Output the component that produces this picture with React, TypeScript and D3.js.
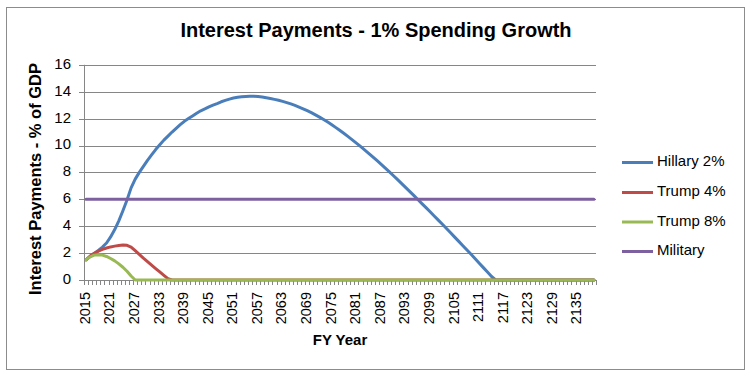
import React from "react";
import * as d3 from "d3";

const years: number[] = d3.range(2015, 2140);

const hillary: number[] = [
  1.5, 1.75, 1.98, 2.2, 2.45, 2.75, 3.2, 3.75, 4.4, 5.15,
  5.95, 6.85, 7.5, 8.0, 8.45, 8.9, 9.3, 9.7, 10.05, 10.4,
  10.7, 11.0, 11.28, 11.55, 11.8, 12.0, 12.2, 12.4, 12.58, 12.72,
  12.87, 13.0, 13.12, 13.25, 13.35, 13.45, 13.53, 13.58, 13.62, 13.65,
  13.66, 13.66, 13.64, 13.6, 13.55, 13.5, 13.43, 13.36, 13.28, 13.19,
  13.09, 12.98, 12.86, 12.73, 12.59, 12.44, 12.28, 12.11, 11.93, 11.74,
  11.54, 11.33, 11.11, 10.89, 10.66, 10.42, 10.18, 9.93, 9.68, 9.42,
  9.16, 8.89, 8.62, 8.34, 8.06, 7.77, 7.48, 7.19, 6.89, 6.59,
  6.29, 5.98, 5.68, 5.38, 5.07, 4.76, 4.45, 4.14, 3.83, 3.51,
  3.19, 2.87, 2.55, 2.23, 1.91, 1.58, 1.25, 0.92, 0.59, 0.26,
  0, 0, 0, 0, 0, 0, 0, 0, 0, 0,
  0, 0, 0, 0, 0, 0, 0, 0, 0, 0,
  0, 0, 0, 0, 0,
];

const trump4: number[] = [
  1.5, 1.78, 1.98, 2.15, 2.28, 2.38, 2.46, 2.52, 2.57, 2.6,
  2.58, 2.45, 2.18, 1.9, 1.62, 1.36, 1.1, 0.85, 0.6, 0.35,
  0.1, 0, 0, 0, 0, 0, 0, 0, 0, 0,
  0, 0, 0, 0, 0, 0, 0, 0, 0, 0,
  0, 0, 0, 0, 0, 0, 0, 0, 0, 0,
  0, 0, 0, 0, 0, 0, 0, 0, 0, 0,
  0, 0, 0, 0, 0, 0, 0, 0, 0, 0,
  0, 0, 0, 0, 0, 0, 0, 0, 0, 0,
  0, 0, 0, 0, 0, 0, 0, 0, 0, 0,
  0, 0, 0, 0, 0, 0, 0, 0, 0, 0,
  0, 0, 0, 0, 0, 0, 0, 0, 0, 0,
  0, 0, 0, 0, 0, 0, 0, 0, 0, 0,
  0, 0, 0, 0, 0,
];

const trump8: number[] = [
  1.5, 1.72, 1.85, 1.88, 1.85, 1.75, 1.6, 1.42, 1.2, 0.95,
  0.65, 0.3, 0, 0, 0, 0, 0, 0, 0, 0,
  0, 0, 0, 0, 0, 0, 0, 0, 0, 0,
  0, 0, 0, 0, 0, 0, 0, 0, 0, 0,
  0, 0, 0, 0, 0, 0, 0, 0, 0, 0,
  0, 0, 0, 0, 0, 0, 0, 0, 0, 0,
  0, 0, 0, 0, 0, 0, 0, 0, 0, 0,
  0, 0, 0, 0, 0, 0, 0, 0, 0, 0,
  0, 0, 0, 0, 0, 0, 0, 0, 0, 0,
  0, 0, 0, 0, 0, 0, 0, 0, 0, 0,
  0, 0, 0, 0, 0, 0, 0, 0, 0, 0,
  0, 0, 0, 0, 0, 0, 0, 0, 0, 0,
  0, 0, 0, 0, 0,
];

const military: number[] = [
  6, 6, 6, 6, 6, 6, 6, 6, 6, 6,
  6, 6, 6, 6, 6, 6, 6, 6, 6, 6,
  6, 6, 6, 6, 6, 6, 6, 6, 6, 6,
  6, 6, 6, 6, 6, 6, 6, 6, 6, 6,
  6, 6, 6, 6, 6, 6, 6, 6, 6, 6,
  6, 6, 6, 6, 6, 6, 6, 6, 6, 6,
  6, 6, 6, 6, 6, 6, 6, 6, 6, 6,
  6, 6, 6, 6, 6, 6, 6, 6, 6, 6,
  6, 6, 6, 6, 6, 6, 6, 6, 6, 6,
  6, 6, 6, 6, 6, 6, 6, 6, 6, 6,
  6, 6, 6, 6, 6, 6, 6, 6, 6, 6,
  6, 6, 6, 6, 6, 6, 6, 6, 6, 6,
  6, 6, 6, 6, 6,
];

const seriesNames: string[] = ["Hillary 2%", "Trump 4%", "Trump 8%", "Military"];
const seriesColors: string[] = ["#4A7EBB", "#BE4B48", "#98B954", "#7D60A0"];
const yTicks: number[] = [0, 2, 4, 6, 8, 10, 12, 14, 16];
const xLabelYears: number[] = d3.range(2015, 2140, 6);

const W = 753;
const H = 379;
const plot = { left: 84, right: 596, top: 64.8, bottom: 280 };

export default function App() {
  const seriesData = [hillary, trump4, trump8, military];
  const x = d3
    .scaleBand<number>()
    .domain(years)
    .range([plot.left, plot.right])
    .padding(0);
  const y = d3.scaleLinear().domain([0, 16]).range([plot.bottom, plot.top]);
  const cx = (yr: number) => (x(yr) as number) + x.bandwidth() / 2;
  const line = d3
    .line<number>()
    .x((_, i) => cx(years[i]))
    .y((v) => y(v));

  const boundaries = d3.range(years.length + 1).map(
    (i) => plot.left + i * x.bandwidth()
  );
  const gridColor = "#868686";
  const font = "'Liberation Sans', Arial, sans-serif";
  const legendY = [162.5, 192.5, 222, 251.5];

  return (
    <svg
      width={W}
      height={H}
      style={{ position: "absolute", left: 0, top: 0, background: "#fff" }}
      fontFamily={font}
    >
      <rect x={0} y={0} width={W} height={H} fill="#fff" />
      <rect x={6.5} y={7.5} width={738} height={362} fill="#fff" stroke="#8c8c8c" strokeWidth={1} />
      <text
        x={376}
        y={32}
        textAnchor="middle"
        dominantBaseline="middle"
        fontSize={20}
        fontWeight="bold"
        fill="#000"
      >
        Interest Payments - 1% Spending Growth
      </text>

      {/* gridlines */}
      {yTicks.filter((t) => t > 0).map((t) => (
        <line key={"g" + t} x1={plot.left} x2={plot.right} y1={Math.round(y(t)) + 0.5} y2={Math.round(y(t)) + 0.5} stroke={gridColor} strokeWidth={1} />
      ))}

      {/* y axis */}
      <line x1={plot.left + 0.5} x2={plot.left + 0.5} y1={y(16)} y2={plot.bottom} stroke={gridColor} />
      {yTicks.map((t) => (
        <g key={"yt" + t}>
          <line x1={plot.left - 5} x2={plot.left} y1={Math.round(y(t)) + 0.5} y2={Math.round(y(t)) + 0.5} stroke={gridColor} />
          <text x={71} y={y(t)} textAnchor="end" dominantBaseline="middle" fontSize={15} fill="#000">
            {t}
          </text>
        </g>
      ))}

      {/* x axis */}
      <line x1={plot.left} x2={plot.right} y1={plot.bottom + 0.5} y2={plot.bottom + 0.5} stroke={gridColor} />
      {boundaries.map((bx, i) => (
        <line key={"xt" + i} x1={Math.round(bx) + 0.5} x2={Math.round(bx) + 0.5} y1={plot.bottom} y2={plot.bottom + 5} stroke={gridColor} />
      ))}
      {xLabelYears.map((yr) => (
        <text
          key={"xl" + yr}
          transform={`translate(${cx(yr)},${plot.bottom + 12}) rotate(-90)`}
          textAnchor="end"
          dominantBaseline="middle"
          fontSize={14.5}
          fill="#000"
        >
          {yr}
        </text>
      ))}

      {/* series */}
      {seriesData.map((d, i) => (
        <path key={"s" + i} d={line(d) || ""} fill="none" stroke={seriesColors[i]} strokeWidth={3} strokeLinejoin="round" strokeLinecap="round" />
      ))}

      {/* axis titles */}
      <text x={340} y={341} textAnchor="middle" dominantBaseline="middle" fontSize={15} fontWeight="bold" fill="#000">
        FY Year
      </text>
      <text
        transform={`translate(37,179) rotate(-90)`}
        textAnchor="middle"
        dominantBaseline="middle"
        fontSize={16.5}
        fontWeight="bold"
        fill="#000"
      >
        Interest Payments - % of GDP
      </text>

      {/* legend */}
      {seriesNames.map((name, i) => (
        <g key={"lg" + i}>
          <line x1={622} x2={653} y1={legendY[i]} y2={legendY[i]} stroke={seriesColors[i]} strokeWidth={3} />
          <text x={657} y={legendY[i]} dominantBaseline="middle" fontSize={15} fill="#000">
            {name}
          </text>
        </g>
      ))}
    </svg>
  );
}
